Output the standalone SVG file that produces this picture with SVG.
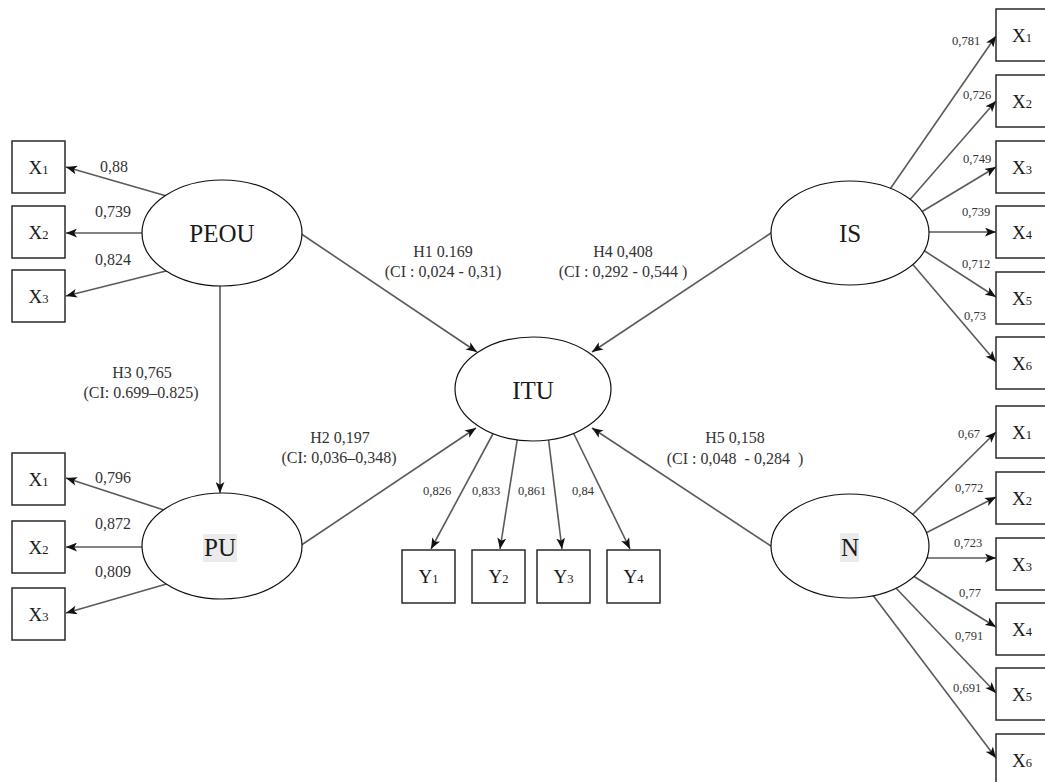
<svg xmlns="http://www.w3.org/2000/svg" width="1045" height="782" viewBox="0 0 1045 782">
  <style>
    .box { fill: #ffffff; stroke: #2a2a2a; stroke-width: 1.5; }
    .lat { fill: #ffffff; stroke: #111111; stroke-width: 1.2; }
    .lat-t { font-family: "Liberation Serif", "Times New Roman", serif; font-size: 25px; fill: #1a1a1a; text-anchor: middle; }
    .ind-t { font-family: "Liberation Serif", "Times New Roman", serif; font-size: 19px; fill: #1a1a1a; text-anchor: middle; }
    .sub { font-size: 12.5px; }
    .edge { stroke: #5a5a5a; stroke-width: 1.6; fill: none; marker-end: url(#arr); }
    .lbl { font-family: "Liberation Serif", "Times New Roman", serif; font-size: 16px; fill: #333333; }
    .hyp { font-family: "Liberation Serif", "Times New Roman", serif; font-size: 16px; fill: #333333; text-anchor: middle; white-space: pre; }
    .sm { font-family: "Liberation Serif", "Times New Roman", serif; font-size: 12.5px; fill: #333333; }
    .hl { fill: #ebebeb; }
  </style>
  <defs>
    <marker id="arr" viewBox="0 0 10 8" markerWidth="11" markerHeight="9" refX="10" refY="4" orient="auto" markerUnits="userSpaceOnUse">
      <path d="M0,0 L10,4 L0,8 L2.5,4 Z" fill="#111111"/>
    </marker>
  </defs>
  <rect width="1045" height="782" fill="#ffffff"/>

  <!-- connectors -->
  <g id="connectors">
    <!-- PEOU loadings -->
    <line class="edge" x1="170" y1="197" x2="66" y2="167"/>
    <line class="edge" x1="150" y1="233" x2="66" y2="233"/>
    <line class="edge" x1="170" y1="270" x2="66" y2="296"/>
    <!-- PU loadings -->
    <line class="edge" x1="170" y1="512" x2="66" y2="478"/>
    <line class="edge" x1="150" y1="547" x2="66" y2="547"/>
    <line class="edge" x1="170" y1="583" x2="66" y2="613"/>
    <!-- structural paths -->
    <line class="edge" x1="220" y1="280" x2="220" y2="493"/>
    <line class="edge" x1="294" y1="229" x2="477" y2="352"/>
    <line class="edge" x1="777" y1="229" x2="592" y2="352"/>
    <line class="edge" x1="294" y1="550" x2="476" y2="428"/>
    <line class="edge" x1="777" y1="550" x2="592" y2="428"/>
    <!-- ITU loadings -->
    <line class="edge" x1="495" y1="430" x2="431" y2="549"/>
    <line class="edge" x1="518" y1="435" x2="500" y2="549"/>
    <line class="edge" x1="548" y1="435" x2="562" y2="549"/>
    <line class="edge" x1="572" y1="430" x2="630" y2="549"/>
    <!-- IS loadings -->
    <line class="edge" x1="888" y1="192" x2="996" y2="36"/>
    <line class="edge" x1="907" y1="203" x2="996" y2="101"/>
    <line class="edge" x1="918" y1="214" x2="996" y2="167"/>
    <line class="edge" x1="922" y1="232" x2="996" y2="232"/>
    <line class="edge" x1="920" y1="248" x2="996" y2="297"/>
    <line class="edge" x1="909" y1="260" x2="996" y2="362"/>
    <!-- N loadings -->
    <line class="edge" x1="909" y1="518" x2="996" y2="432"/>
    <line class="edge" x1="920" y1="536" x2="996" y2="497"/>
    <line class="edge" x1="922" y1="558" x2="996" y2="558"/>
    <line class="edge" x1="910" y1="574" x2="996" y2="627"/>
    <line class="edge" x1="894" y1="586" x2="996" y2="693"/>
    <line class="edge" x1="872" y1="594" x2="996" y2="758"/>

    <!-- loading values -->
    <text class="lbl" x="100" y="172">0,88</text>
    <text class="lbl" x="95" y="217">0,739</text>
    <text class="lbl" x="95" y="265">0,824</text>
    <text class="lbl" x="95" y="483">0,796</text>
    <text class="lbl" x="95" y="529">0,872</text>
    <text class="lbl" x="95" y="577">0,809</text>

    <text class="sm" x="423" y="495">0,826</text>
    <text class="sm" x="472" y="495">0,833</text>
    <text class="sm" x="518" y="495">0,861</text>
    <text class="sm" x="572" y="495">0,84</text>

    <text class="sm" x="952" y="45">0,781</text>
    <text class="sm" x="963" y="99">0,726</text>
    <text class="sm" x="963" y="163">0,749</text>
    <text class="sm" x="962" y="216">0,739</text>
    <text class="sm" x="962" y="268">0,712</text>
    <text class="sm" x="964" y="320">0,73</text>

    <text class="sm" x="958" y="438">0,67</text>
    <text class="sm" x="955" y="492">0,772</text>
    <text class="sm" x="954" y="547">0,723</text>
    <text class="sm" x="959" y="597">0,77</text>
    <text class="sm" x="955" y="640">0,791</text>
    <text class="sm" x="953" y="692">0,691</text>

    <!-- path coefficients -->
    <text class="hyp" x="443" y="257">H1 0.169</text>
    <text class="hyp" x="443" y="277">(CI : 0,024 - 0,31)</text>
    <text class="hyp" x="623" y="257">H4 0,408</text>
    <text class="hyp" x="623" y="277">(CI : 0,292 - 0,544 )</text>
    <text class="hyp" x="142" y="378">H3 0,765</text>
    <text class="hyp" x="141" y="398">(CI: 0.699–0.825)</text>
    <text class="hyp" x="340" y="443">H2 0,197</text>
    <text class="hyp" x="339" y="463">(CI: 0,036–0,348)</text>
    <text class="hyp" x="735" y="443">H5 0,158</text>
    <text class="hyp" x="735" y="464">(CI : 0,048  - 0,284  )</text>
  </g>

  <!-- latent variables -->
  <g id="PEOU">
    <ellipse class="lat" cx="222" cy="233" rx="80" ry="53"/>
    <text class="lat-t" x="222" y="242">PEOU</text>
  </g>
  <g id="PU">
    <ellipse class="lat" cx="222" cy="546" rx="80" ry="53"/>
    <rect class="hl" x="203" y="534" width="34" height="28"/>
    <text class="lat-t" x="220" y="556">PU</text>
  </g>
  <g id="ITU">
    <ellipse class="lat" cx="533" cy="389" rx="78" ry="52"/>
    <text class="lat-t" x="533" y="399">ITU</text>
  </g>
  <g id="IS">
    <ellipse class="lat" cx="850" cy="233" rx="79" ry="52"/>
    <text class="lat-t" x="850" y="242">IS</text>
  </g>
  <g id="N">
    <ellipse class="lat" cx="850" cy="546" rx="79" ry="52"/>
    <rect class="hl" x="840" y="533" width="19" height="29"/>
    <text class="lat-t" x="850" y="556">N</text>
  </g>

  <!-- PEOU indicators -->
  <g id="PEOU-X1"><rect class="box" x="12" y="141" width="53" height="52"/><text class="ind-t" x="38.5" y="173.5">X<tspan class="sub">1</tspan></text></g>
  <g id="PEOU-X2"><rect class="box" x="12" y="206" width="53" height="52"/><text class="ind-t" x="38.5" y="238.5">X<tspan class="sub">2</tspan></text></g>
  <g id="PEOU-X3"><rect class="box" x="12" y="270" width="53" height="52"/><text class="ind-t" x="38.5" y="302.5">X<tspan class="sub">3</tspan></text></g>

  <!-- PU indicators -->
  <g id="PU-X1"><rect class="box" x="12" y="453" width="53" height="52"/><text class="ind-t" x="38.5" y="485.5">X<tspan class="sub">1</tspan></text></g>
  <g id="PU-X2"><rect class="box" x="12" y="521" width="53" height="52"/><text class="ind-t" x="38.5" y="553.5">X<tspan class="sub">2</tspan></text></g>
  <g id="PU-X3"><rect class="box" x="12" y="588" width="53" height="52"/><text class="ind-t" x="38.5" y="620.5">X<tspan class="sub">3</tspan></text></g>

  <!-- ITU indicators -->
  <g id="ITU-Y1"><rect class="box" x="402" y="550" width="53" height="53"/><text class="ind-t" x="428.5" y="583">Y<tspan class="sub">1</tspan></text></g>
  <g id="ITU-Y2"><rect class="box" x="472" y="550" width="53" height="53"/><text class="ind-t" x="498.5" y="583">Y<tspan class="sub">2</tspan></text></g>
  <g id="ITU-Y3"><rect class="box" x="537" y="550" width="53" height="53"/><text class="ind-t" x="563.5" y="583">Y<tspan class="sub">3</tspan></text></g>
  <g id="ITU-Y4"><rect class="box" x="607" y="550" width="53" height="53"/><text class="ind-t" x="633.5" y="583">Y<tspan class="sub">4</tspan></text></g>

  <!-- IS indicators -->
  <g id="IS-X1"><rect class="box" x="996" y="9" width="52" height="52"/><text class="ind-t" x="1022" y="41.5">X<tspan class="sub">1</tspan></text></g>
  <g id="IS-X2"><rect class="box" x="996" y="75" width="52" height="52"/><text class="ind-t" x="1022" y="107.5">X<tspan class="sub">2</tspan></text></g>
  <g id="IS-X3"><rect class="box" x="996" y="141" width="52" height="52"/><text class="ind-t" x="1022" y="173.5">X<tspan class="sub">3</tspan></text></g>
  <g id="IS-X4"><rect class="box" x="996" y="206" width="52" height="52"/><text class="ind-t" x="1022" y="238.5">X<tspan class="sub">4</tspan></text></g>
  <g id="IS-X5"><rect class="box" x="996" y="272" width="52" height="52"/><text class="ind-t" x="1022" y="304.5">X<tspan class="sub">5</tspan></text></g>
  <g id="IS-X6"><rect class="box" x="996" y="337" width="52" height="52"/><text class="ind-t" x="1022" y="369.5">X<tspan class="sub">6</tspan></text></g>

  <!-- N indicators -->
  <g id="N-X1"><rect class="box" x="996" y="406" width="52" height="52"/><text class="ind-t" x="1022" y="438.5">X<tspan class="sub">1</tspan></text></g>
  <g id="N-X2"><rect class="box" x="996" y="472" width="52" height="52"/><text class="ind-t" x="1022" y="504.5">X<tspan class="sub">2</tspan></text></g>
  <g id="N-X3"><rect class="box" x="996" y="538" width="52" height="52"/><text class="ind-t" x="1022" y="570.5">X<tspan class="sub">3</tspan></text></g>
  <g id="N-X4"><rect class="box" x="996" y="603" width="52" height="52"/><text class="ind-t" x="1022" y="635.5">X<tspan class="sub">4</tspan></text></g>
  <g id="N-X5"><rect class="box" x="996" y="668" width="52" height="52"/><text class="ind-t" x="1022" y="700.5">X<tspan class="sub">5</tspan></text></g>
  <g id="N-X6"><rect class="box" x="996" y="734" width="52" height="52"/><text class="ind-t" x="1022" y="766.5">X<tspan class="sub">6</tspan></text></g>
</svg>
